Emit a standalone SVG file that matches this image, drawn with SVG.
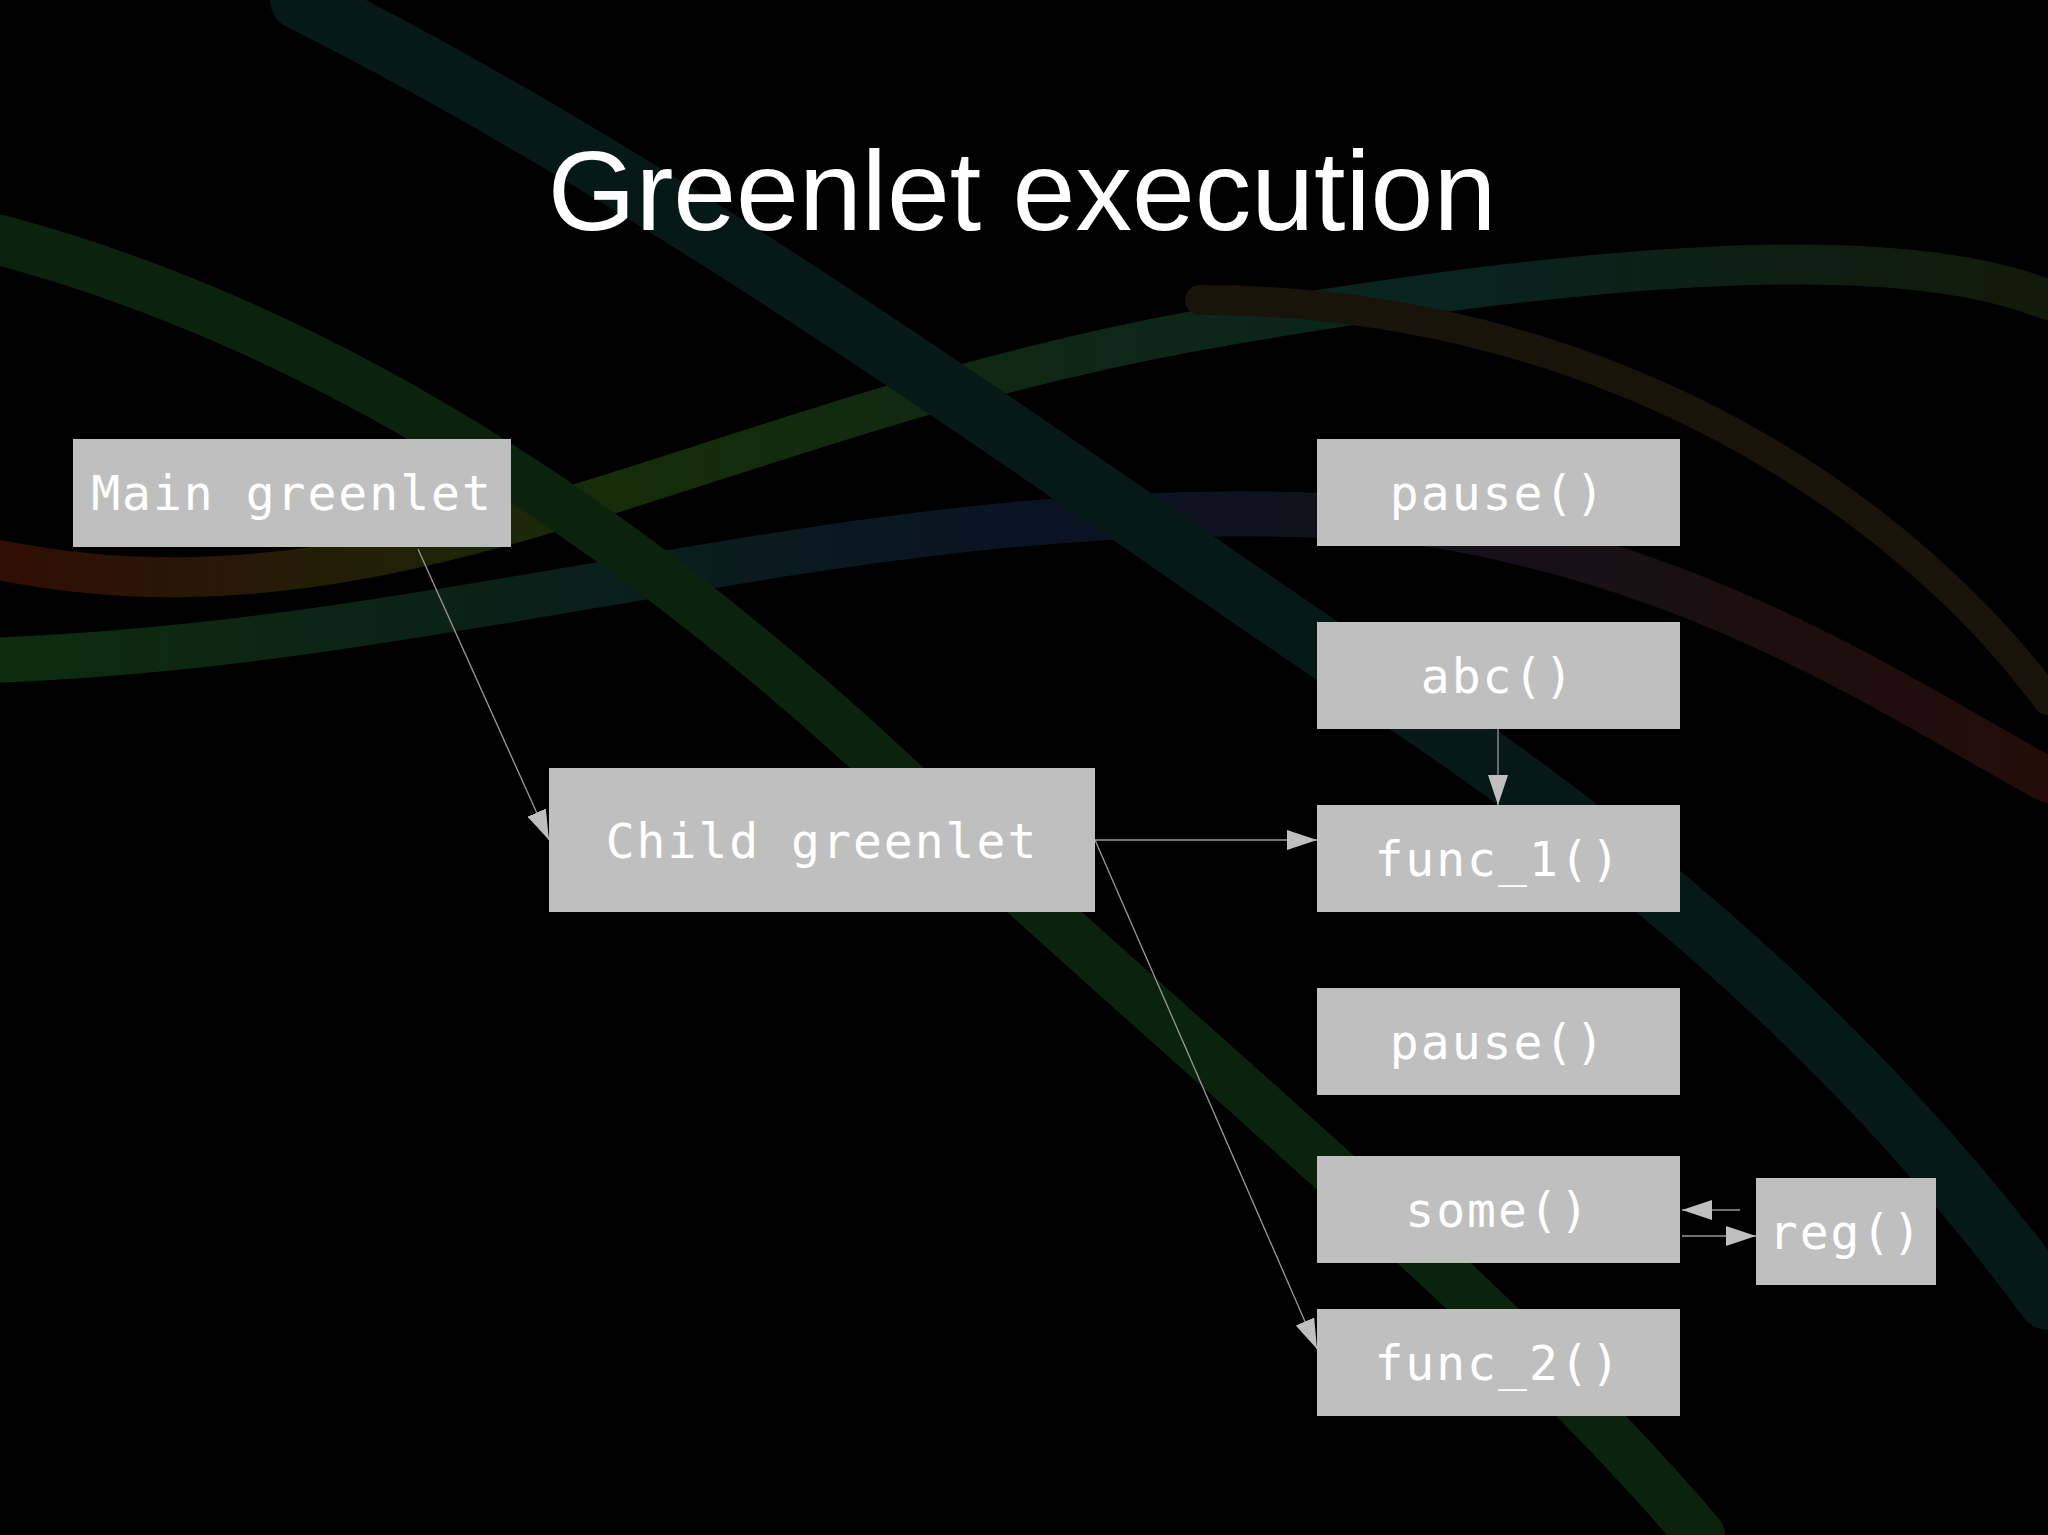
<svg xmlns="http://www.w3.org/2000/svg" width="2048" height="1535" viewBox="0 0 2048 1535">
<defs>
<style>
.box{fill:#c0bfc0}
.lbl{font-family:"DejaVu Sans Mono","Liberation Mono",monospace;font-size:48px;fill:#ffffff;text-anchor:middle;letter-spacing:2px}
.con{stroke:#9a9a9a;stroke-width:1.3;fill:none}
.bg{fill:none;stroke-linecap:round}
</style>
<marker id="ah" viewBox="0 0 30 20" refX="30" refY="10" markerWidth="30" markerHeight="20" markerUnits="userSpaceOnUse" orient="auto">
<path d="M0,0 L30,10 L0,20 Z" fill="#c0bfc0"/>
</marker>
<linearGradient id="g1" x1="0" y1="0" x2="1" y2="0">
<stop offset="0" stop-color="#b03010"/><stop offset="0.3" stop-color="#50a020"/><stop offset="0.7" stop-color="#208070"/><stop offset="1" stop-color="#406020"/>
</linearGradient>
<linearGradient id="g2" x1="0" y1="0" x2="1" y2="0">
<stop offset="0" stop-color="#30a030"/><stop offset="0.5" stop-color="#204880"/><stop offset="1" stop-color="#803020"/>
</linearGradient>
</defs>
<rect width="2048" height="1535" fill="#000"/>
<g id="background" opacity="0.28">
<path class="bg" d="M0,560 C400,640 700,420 1200,330 C1600,260 1900,240 2048,300" stroke="url(#g1)" stroke-width="40"/>
<path class="bg" d="M0,660 C500,640 900,480 1400,520 C1700,560 1900,700 2048,780" stroke="url(#g2)" stroke-width="45"/>
<path class="bg" d="M0,240 C300,320 600,500 900,780 C1200,1060 1500,1300 1700,1535" stroke="#2a7a30" stroke-width="50"/>
<path class="bg" d="M300,0 C700,200 1100,500 1400,700 C1700,900 1900,1100 2048,1300" stroke="#1a5a50" stroke-width="60"/>
<path class="bg" d="M1200,300 C1600,300 1900,500 2048,700" stroke="#5a4a20" stroke-width="30"/>
</g>
<text x="1022" y="230" font-family="Liberation Sans, Arial, sans-serif" font-size="113" fill="#ffffff" text-anchor="middle">Greenlet execution</text>
<g id="connectors">
<line class="con" x1="418" y1="549" x2="549" y2="840" marker-end="url(#ah)"/>
<line class="con" x1="1095" y1="840" x2="1317" y2="840" marker-end="url(#ah)"/>
<line class="con" x1="1498" y1="729" x2="1498" y2="805" marker-end="url(#ah)"/>
<line class="con" x1="1095" y1="840" x2="1317" y2="1349" marker-end="url(#ah)"/>
<line class="con" x1="1740" y1="1210" x2="1682" y2="1210" marker-end="url(#ah)"/>
<line class="con" x1="1682" y1="1236" x2="1756" y2="1236" marker-end="url(#ah)"/>
</g>
<g id="main"><rect class="box" x="73" y="439" width="438" height="108"/><text class="lbl" x="292" y="510">Main greenlet</text></g>
<g id="child"><rect class="box" x="549" y="768" width="546" height="144"/><text class="lbl" x="822" y="858">Child greenlet</text></g>
<g id="pause1"><rect class="box" x="1317" y="439" width="363" height="107"/><text class="lbl" x="1498" y="510">pause()</text></g>
<g id="abc"><rect class="box" x="1317" y="622" width="363" height="107"/><text class="lbl" x="1498" y="693">abc()</text></g>
<g id="func1"><rect class="box" x="1317" y="805" width="363" height="107"/><text class="lbl" x="1498" y="876">func_1()</text></g>
<g id="pause2"><rect class="box" x="1317" y="988" width="363" height="107"/><text class="lbl" x="1498" y="1059">pause()</text></g>
<g id="some"><rect class="box" x="1317" y="1156" width="363" height="107"/><text class="lbl" x="1498" y="1227">some()</text></g>
<g id="reg"><rect class="box" x="1756" y="1178" width="180" height="107"/><text class="lbl" x="1846" y="1249">reg()</text></g>
<g id="func2"><rect class="box" x="1317" y="1309" width="363" height="107"/><text class="lbl" x="1498" y="1380">func_2()</text></g>
</svg>
